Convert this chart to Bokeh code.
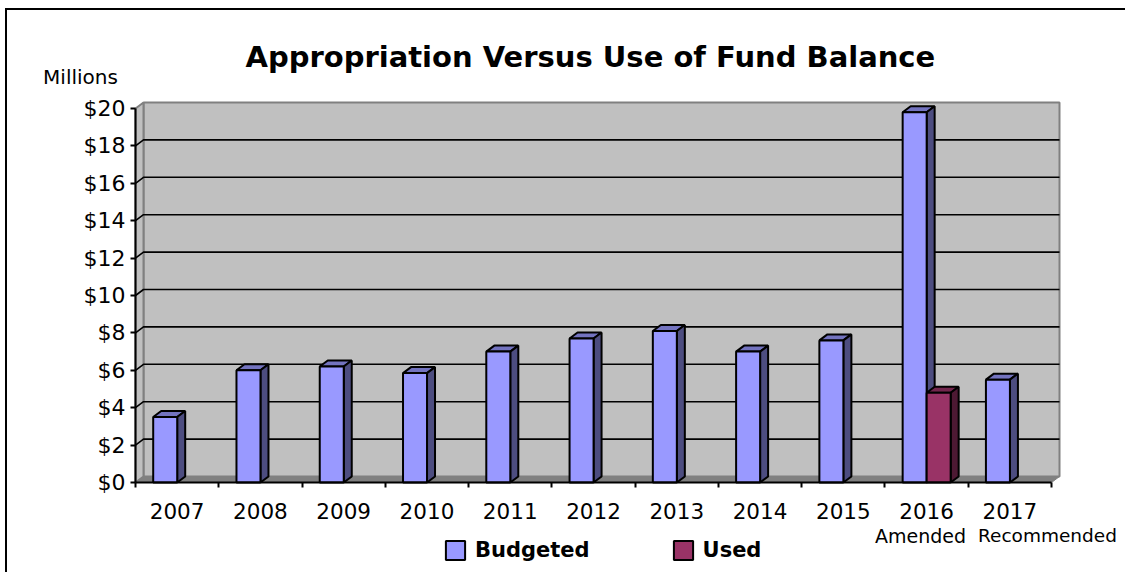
from bokeh.plotting import figure
from bokeh.models import (FixedTicker, Range1d, Label, Legend, LegendItem)
from bokeh.embed import file_html
from bokeh.resources import INLINE

years = ["2007","2008","2009","2010","2011","2012","2013","2014","2015","2016","2017"]
budgeted = [3.5,6.0,6.2,5.85,7.0,7.7,8.1,7.0,7.6,19.8,5.5]
used = [0,0,0,0,0,0,0,0,0,4.8,0]
y_ticks = list(range(0,21,2))
title = "Appropriation Versus Use of Fund Balance"

FONT = "DejaVu Sans"
W, H = 1125, 572
L, B = 135, 482           # pixel position of the front axes on the page
T = 64                    # top of the frame
XU, YU = 916/11, 18.7     # pixels per unit
DX, DY = 8/XU, 6/YU       # 3-D depth in data units

p = figure(width=W, height=H, output_backend="svg", toolbar_location=None,
           x_range=Range1d(-L/XU, (W-L)/XU), y_range=Range1d(-(H-B)/YU, (B-T)/YU),
           min_border_left=0, min_border_right=0, min_border_top=T, min_border_bottom=0,
           background_fill_color="white", border_fill_color="white",
           outline_line_color=None)
p.grid.visible = False
p.stylesheets = [":host::after{content:'';position:absolute;left:5px;top:8px;right:0;bottom:0;"
                 "border-left:2px solid black;border-top:2px solid black;pointer-events:none;}"]

WALL, EDGE, FLOOR = "#C0C0C0", "#808080", "#808080"
xmax, ymax = len(years), y_ticks[-1]
p.patch([DX,xmax+DX,xmax+DX,DX],[DY,DY,ymax+DY,ymax+DY],fill_color=WALL,line_color=EDGE,line_width=2)
p.patch([0,DX,DX,0],[0,DY,ymax+DY,ymax],fill_color=WALL,line_color=EDGE,line_width=2)
p.patch([0,xmax,xmax+DX,DX],[0,0,DY,DY],fill_color=FLOOR,line_color=EDGE,line_width=1)
gt = [t for t in y_ticks if 0 < t < ymax]
p.multi_line([[0,DX,xmax+DX] for t in gt],[[t,t+DY,t+DY] for t in gt],line_color="black",line_width=1.6)

BW, OFF = 24/XU, 17.7/XU
def bars(vals, shift, front, top, side):
    idx = [i for i,v in enumerate(vals) if v > 0]
    l = [i+OFF+shift for i in idx]; r = [a+BW for a in l]; v = [vals[i] for i in idx]
    p.patches([[a,a+DX,b+DX,b] for a,b in zip(l,r)],[[h,h+DY,h+DY,h] for h in v],
              fill_color=top,line_color="black",line_width=2)
    p.patches([[b,b+DX,b+DX,b] for b in r],[[0,DY,h+DY,h] for h in v],
              fill_color=side,line_color="black",line_width=2)
    return p.quad(left=l,right=r,bottom=0,top=v,fill_color=front,line_color="black",line_width=2)

rb = bars(budgeted,0,"#9999FF","#7373BF","#4D4D80")
ru = bars(used,BW,"#993366","#73264D","#4D1933")

ya = p.yaxis[0]
ya.fixed_location = 0
ya.ticker = FixedTicker(ticks=y_ticks)
ya.major_label_overrides = {t:f"${t}" for t in y_ticks}
ya.bounds = (0,ymax)
ya.major_label_text_font = FONT
ya.major_label_text_font_size = "22px"
ya.major_label_text_color = "black"
ya.major_tick_in = 0; ya.major_tick_out = 5; ya.minor_tick_line_color = None
ya.axis_line_width = 2; ya.major_tick_line_width = 2; ya.major_label_standoff = 5
ya.axis_line_color = "black"

xa = p.xaxis[0]
xa.fixed_location = 0
centres = [i+0.5 for i in range(len(years))]
xa.ticker = FixedTicker(ticks=centres, minor_ticks=list(range(len(years)+1)))
xa.major_label_overrides = {c:y for c,y in zip(centres,years)}
xa.bounds = (0,xmax)
xa.major_tick_line_color = None
xa.major_tick_in = 0; xa.major_tick_out = 0
xa.minor_tick_in = 0; xa.minor_tick_out = 5; xa.minor_tick_line_width = 2
xa.minor_tick_line_color = "black"
xa.axis_line_width = 2; xa.axis_line_color = "black"
xa.major_label_text_font = FONT
xa.major_label_text_font_size = "21.5px"
xa.major_label_text_color = "black"
xa.major_label_standoff = 15

p.title.text = title
p.title.text_font = FONT
p.title.text_font_style = "bold"
p.title.text_font_size = "29px"
p.title.text_color = "black"
p.title.align = "left"
p.title.offset = 245
p.title.standoff = -19

def label(txt, x, y, size):
    p.add_layout(Label(x=x,y=y,text=txt,text_font=FONT,text_font_size=size,text_color="black",
                       text_align="center",text_baseline="middle"))
label("Millions", (80-L)/XU, (B-76)/YU, "20px")
label("Amended", (920-L)/XU, (B-535)/YU, "19px")
label("Recommended", (1047-L)/XU, (B-535)/YU, "18.5px")

leg = Legend(items=[LegendItem(label="Budgeted",renderers=[rb]),LegendItem(label="Used",renderers=[ru])],
             orientation="horizontal", location=(443,10),
             glyph_width=24, glyph_height=24, label_standoff=8, spacing=81,
             padding=0, margin=0, border_line_color=None, background_fill_alpha=0,
             label_text_font=FONT, label_text_font_style="bold", label_text_font_size="21px",
             label_text_color="black")
p.add_layout(leg,"center")

open("out.html","w").write(file_html(p, INLINE))
